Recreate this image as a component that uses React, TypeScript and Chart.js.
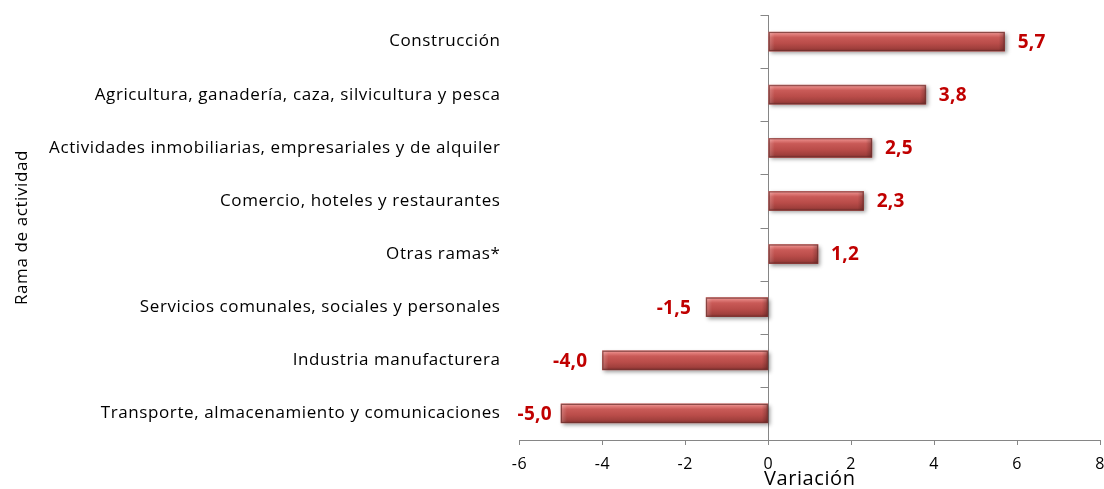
import React, { useEffect, useRef } from 'react';
import { Chart, registerables } from 'chart.js';

Chart.register(...registerables);

const categories = [
  'Construcción',
  'Agricultura, ganadería, caza, silvicultura y pesca',
  'Actividades inmobiliarias, empresariales y de alquiler',
  'Comercio, hoteles y restaurantes',
  'Otras ramas*',
  'Servicios comunales, sociales y personales',
  'Industria manufacturera',
  'Transporte, almacenamiento y comunicaciones',
];
const values = [5.7, 3.8, 2.5, 2.3, 1.2, -1.5, -4.0, -5.0];
const xMin = -6;
const xMax = 8;
const xStep = 2;
const yTitle = 'Rama de actividad';
const xTitle = 'Variación';

const FONT = "'Open Sans', sans-serif";
const AXIS_COLOR = '#868686';
const LABEL_COLOR = '#C00000';

const fmt = (v: number) => v.toFixed(1).replace('.', ',');

const decorPlugin = {
  id: 'decor',
  beforeDraw(chart: any) {
    (chart.ctx as any).letterSpacing = '0.6px';
  },
  beforeDatasetsDraw(chart: any) {
    const ctx = chart.ctx;
    const meta = chart.getDatasetMeta(0);
    meta.data.forEach((el: any) => {
      const { x, y, base, height } = el.getProps(['x', 'y', 'base', 'height'], true);
      const x0 = Math.min(x, base);
      const x1 = Math.max(x, base);
      ctx.save();
      ctx.shadowColor = 'rgba(0,0,0,0.4)';
      ctx.shadowBlur = 4;
      ctx.shadowOffsetX = 2;
      ctx.shadowOffsetY = 2;
      ctx.fillStyle = '#999';
      ctx.fillRect(x0, y - height / 2, x1 - x0, height);
      ctx.restore();
    });
  },
  afterDatasetsDraw(chart: any) {
    const ctx = chart.ctx;
    const meta = chart.getDatasetMeta(0);
    const xs = chart.scales.x;
    const ys = chart.scales.y;
    const area = chart.chartArea;
    meta.data.forEach((el: any) => {
      const { x, y, base, height } = el.getProps(['x', 'y', 'base', 'height'], true);
      const x0 = Math.min(x, base);
      const x1 = Math.max(x, base);
      const y0 = y - height / 2;
      const y1 = y + height / 2;
      const w = x1 - x0;
      ctx.save();
      const g = ctx.createLinearGradient(0, y0, 0, y1);
      g.addColorStop(0, '#F0A09E');
      g.addColorStop(0.12, '#E07C79');
      g.addColorStop(0.28, '#C95A57');
      g.addColorStop(0.6, '#B94C49');
      g.addColorStop(0.85, '#A1403D');
      g.addColorStop(1, '#84312F');
      ctx.fillStyle = g;
      ctx.fillRect(x0, y0, w, height);
      const b = 6;
      const gl = ctx.createLinearGradient(x0, 0, x0 + b, 0);
      gl.addColorStop(0, 'rgba(255,255,255,0.22)');
      gl.addColorStop(1, 'rgba(255,255,255,0)');
      ctx.fillStyle = gl;
      ctx.fillRect(x0, y0, b, height);
      const gr = ctx.createLinearGradient(x1 - b, 0, x1, 0);
      gr.addColorStop(0, 'rgba(0,0,0,0)');
      gr.addColorStop(1, 'rgba(0,0,0,0.25)');
      ctx.fillStyle = gr;
      ctx.fillRect(x1 - b, y0, b, height);
      ctx.strokeStyle = 'rgba(110,50,48,0.8)';
      ctx.lineWidth = 1;
      ctx.strokeRect(x0 + 0.5, y0 + 0.5, w - 1, height - 1);
      ctx.restore();
    });
    const zx = Math.round(xs.getPixelForValue(0)) + 0.5;
    ctx.save();
    ctx.strokeStyle = AXIS_COLOR;
    ctx.lineWidth = 1;
    for (let i = 0; i <= categories.length; i++) {
      const yy = Math.round(ys.getPixelForValue(i - 0.5)) + 0.5;
      ctx.beginPath();
      ctx.moveTo(zx - 8, yy);
      ctx.lineTo(zx, yy);
      ctx.stroke();
    }
    ctx.restore();
    ctx.save();
    (ctx as any).letterSpacing = '0.3px';
    ctx.font = `bold 19px ${FONT}`;
    ctx.fillStyle = LABEL_COLOR;
    ctx.textBaseline = 'middle';
    meta.data.forEach((el: any, i: number) => {
      const v = values[i];
      const { x, y } = el.getProps(['x', 'y'], true);
      const txt = fmt(v);
      const tw = ctx.measureText(txt).width;
      if (v >= 0) {
        ctx.textAlign = 'left';
        ctx.fillText(txt, x + 13, y + 1);
      } else {
        let right = x - 15;
        if (right - tw < area.left - 2) right = area.left - 2 + tw;
        ctx.textAlign = 'right';
        ctx.fillText(txt, right, y + 1);
      }
    });
    ctx.restore();
  },
};

export default function App() {
  const ref = useRef<HTMLCanvasElement | null>(null);
  useEffect(() => {
    if (!ref.current) return;
    const chart = new Chart(ref.current, {
      type: 'bar',
      data: {
        labels: categories,
        datasets: [
          {
            data: values,
            backgroundColor: '#C0504D',
            borderWidth: 0,
            barThickness: 19,
          },
        ],
      },
      options: {
        indexAxis: 'y',
        responsive: false,
        animation: false,
        devicePixelRatio: 1,
        layout: { padding: { top: 15, right: 4, left: 0, bottom: 0 } },
        plugins: {
          legend: { display: false },
          tooltip: { enabled: false },
        },
        scales: {
          x: {
            type: 'linear',
            min: xMin,
            max: xMax,
            ticks: {
              stepSize: xStep,
              padding: 10,
              color: '#000',
              font: { family: FONT, size: 16 },
            },
            grid: {
              color: (c: any) => (c.tick && c.tick.value === 0 ? AXIS_COLOR : 'rgba(0,0,0,0)'),
              tickColor: AXIS_COLOR,
              tickLength: 5,
              lineWidth: 1,
            },
            border: { color: AXIS_COLOR, width: 1 },
            title: {
              display: true,
              text: xTitle,
              color: '#000',
              font: { family: FONT, size: 20, lineHeight: 1 },
              padding: 0,
            },
            afterFit: (s: any) => {
              s.height = 49;
              s.paddingLeft = 0;
              s.paddingRight = 0;
            },
          },
          y: {
            type: 'category',
            ticks: {
              padding: 19,
              color: '#000',
              font: { family: FONT, size: 17 },
            },
            grid: { display: false, drawTicks: false },
            border: { display: false },
            title: {
              display: true,
              text: yTitle,
              color: '#000',
              font: { family: FONT, size: 17 },
              padding: { top: 12, bottom: 0 },
            },
            afterFit: (s: any) => {
              s.width = 519.5;
              s.paddingTop = 0;
              s.paddingBottom = 0;
            },
          },
        },
      },
      plugins: [decorPlugin],
    });
    return () => chart.destroy();
  }, []);
  return (
    <div style={{ position: 'fixed', left: 0, top: 0, width: 1104, height: 489, background: '#fff' }}>
      <canvas ref={ref} width={1104} height={489} style={{ display: 'block', width: 1104, height: 489 }} />
    </div>
  );
}
